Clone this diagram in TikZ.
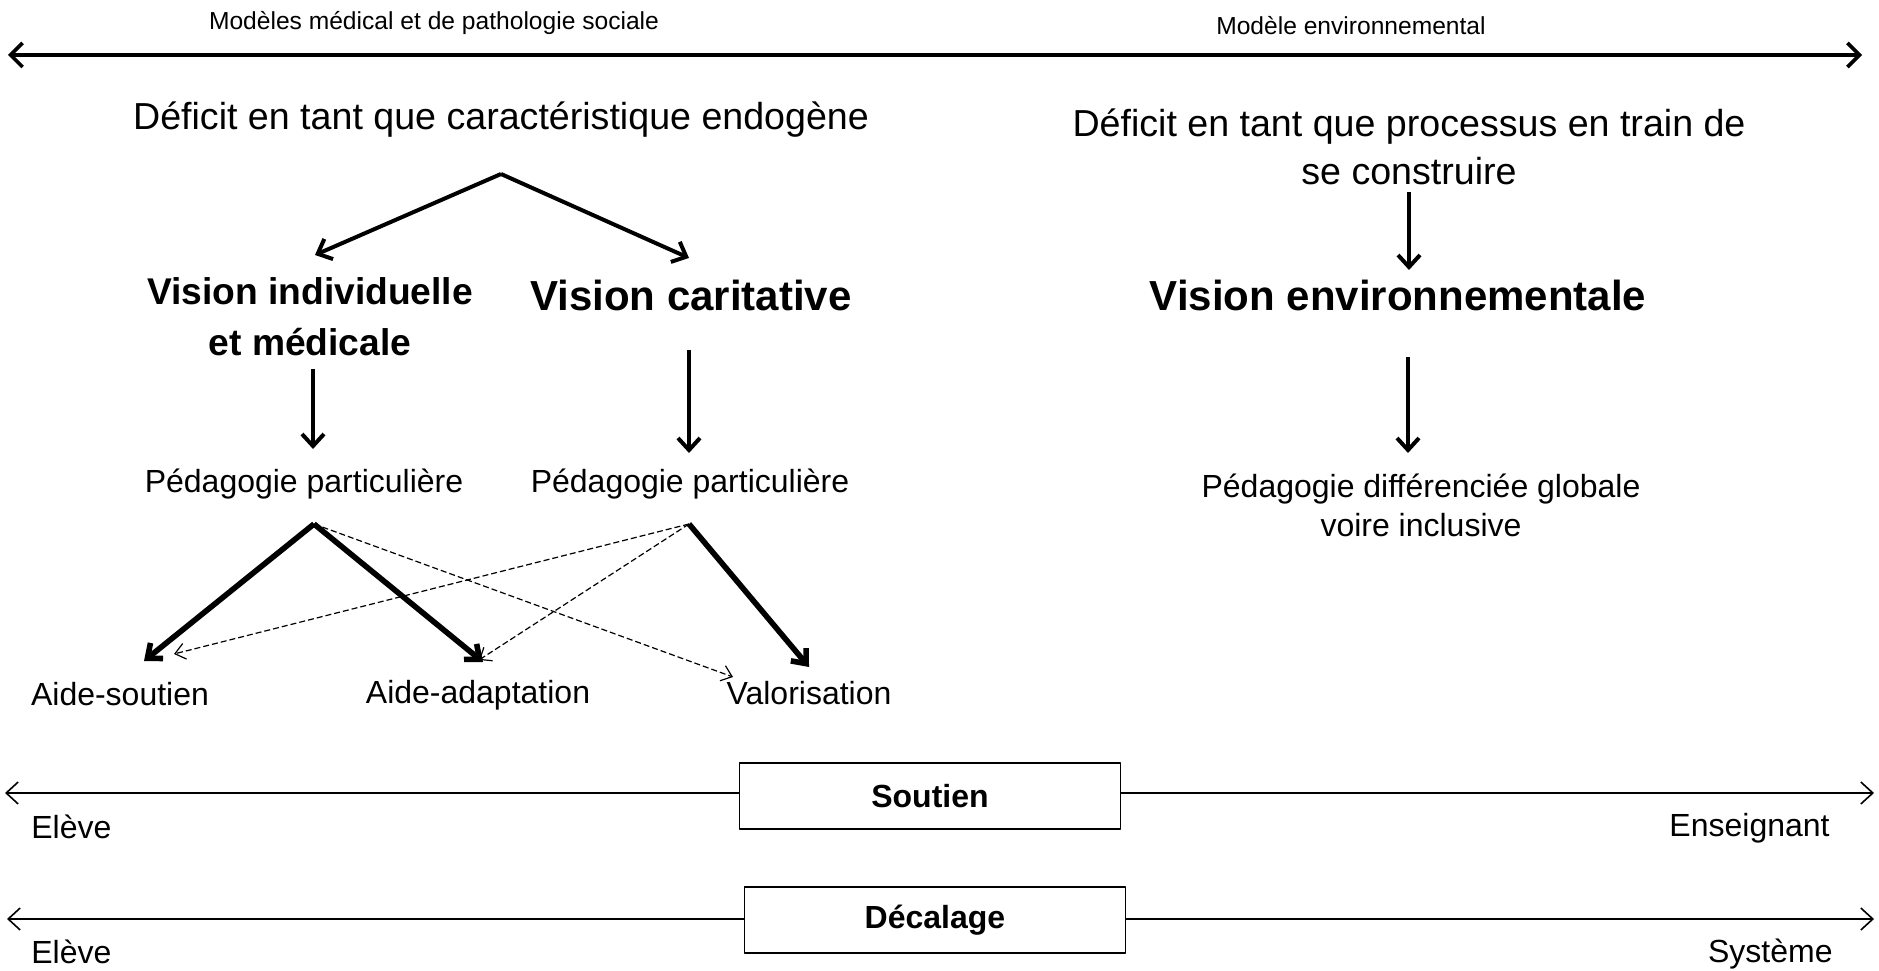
\documentclass[tikz,border=0pt]{standalone}
\usepackage{fontspec}
\setmainfont{Liberation Sans}
\usetikzlibrary{arrows.meta}
\tikzset{
  txtsmall/.style={inner sep=0pt, font=\fontsize{12.3bp}{15bp}\selectfont},
  txtbig/.style={inner sep=0pt, align=center, font=\fontsize{18.8bp}{24bp}\selectfont},
  txtvisa/.style={inner sep=0pt, align=center, font=\bfseries\fontsize{18.6bp}{25.5bp}\selectfont},
  txtvisb/.style={inner sep=0pt, font=\bfseries\fontsize{21bp}{26bp}\selectfont},
  txtbody/.style={inner sep=0pt, align=center, font=\fontsize{16bp}{19.5bp}\selectfont},
  scalebox/.style={draw, line width=0.6bp, fill=white, minimum width=190.5bp, minimum height=33bp,
    inner sep=0pt, font=\bfseries\fontsize{16bp}{19.5bp}\selectfont},
}
\begin{document}
\begin{tikzpicture}[line join=bevel,
  bigaxis/.style={line width=1.8bp, {Straight Barb[length=6bp,width=12bp]}-{Straight Barb[length=6bp,width=12bp]}},
  fatarrow/.style={line width=2bp, -{Straight Barb[length=6bp,width=11bp]}},
  heavyarrow/.style={line width=2.8bp, -{Straight Barb[length=6bp,width=10bp]}},
  dasharrow/.style={line width=0.6bp, dash pattern=on 3bp off 1.5bp, -{Straight Barb[length=5bp,width=8bp]}},
  thinaxis/.style={line width=0.8bp, -{Straight Barb[length=6bp,width=11bp]}},
]
\useasboundingbox (0bp,0bp) rectangle (939.5bp,485.5bp);
%%
  % Node: models
  \node[txtsmall] (modmed) at (217bp,474bp) {Modèles médical et de pathologie sociale};
  \node[txtsmall] (modenv) at (675.5bp,472.5bp) {Modèle environnemental};
  \coordinate (axisL) at (4bp,458bp);
  \coordinate (axisR) at (931bp,458bp);
  % Edge: axisL <-> axisR
  \draw [bigaxis] (axisL) -- (axisR);
  % Node: deficits
  \node[txtbig] (defendo) at (250.5bp,425.5bp) {Déficit en tant que caractéristique endogène};
  \node[txtbig] (defproc) at (704.5bp,412bp) {Déficit en tant que processus en train de\\se construire};
  % Node: visions
  \node[txtvisa] (visind) at (155bp,327bp) {Vision individuelle\\et médicale};
  \node[txtvisb] (viscar) at (345.5bp,338bp) {Vision caritative};
  \node[txtvisb] (visenv) at (699bp,338bp) {Vision environnementale};
  % Node: pedagogies
  \node[txtbody] (pedind) at (152bp,243.5bp) {Pédagogie particulière};
  \node[txtbody] (pedcar) at (345bp,243.5bp) {Pédagogie particulière};
  \node[txtbody] (peddiff) at (710.5bp,233bp) {Pédagogie différenciée globale\\voire inclusive};
  % Node: aides
  \node[txtbody] (aidsout) at (60bp,138.5bp) {Aide-soutien};
  \node[txtbody] (aidadapt) at (239bp,137.7bp) {Aide-adaptation};
  \node[txtbody] (valor) at (404.5bp,139bp) {Valorisation};
  % Edge: defendo -> visind, viscar
  \coordinate (split) at (250.5bp,398.5bp);
  \coordinate (tipind) at (157.5bp,358bp);
  \coordinate (tipcar) at (344.5bp,356.5bp);
  \draw [fatarrow] (split) -- (tipind);
  \draw [fatarrow] (split) -- (tipcar);
  % Edge: defproc -> visenv
  \coordinate (procout) at (704.5bp,389.5bp);
  \coordinate (envin) at (704.5bp,350.5bp);
  \draw [fatarrow] (procout) -- (envin);
  % Edge: visions -> pedagogies
  \coordinate (indout) at (156.5bp,301bp);
  \coordinate (indin) at (156.5bp,261bp);
  \draw [fatarrow] (indout) -- (indin);
  \coordinate (carout) at (344.5bp,310.5bp);
  \coordinate (carin) at (344.5bp,259bp);
  \draw [fatarrow] (carout) -- (carin);
  \coordinate (envout) at (704bp,307bp);
  \coordinate (diffin) at (704bp,259bp);
  \draw [fatarrow] (envout) -- (diffin);
  % Edge: pedagogies -> aides
  \coordinate (srcind) at (157bp,223.5bp);
  \coordinate (srccar) at (344.5bp,223.5bp);
  \coordinate (soutA) at (72bp,155bp);
  \coordinate (adaptA) at (241.5bp,154.5bp);
  \coordinate (valA) at (404.5bp,152bp);
  \coordinate (valB) at (366.5bp,147bp);
  \coordinate (soutB) at (87bp,158.5bp);
  \coordinate (adaptB) at (239.5bp,155.5bp);
  \draw [heavyarrow] (srcind) -- (soutA);
  \draw [heavyarrow] (srcind) -- (adaptA);
  \draw [heavyarrow] (srccar) -- (valA);
  \draw [dasharrow] (srcind) -- (valB);
  \draw [dasharrow] (srccar) -- (soutB);
  \draw [dasharrow] (srccar) -- (adaptB);
  % Node: Soutien
  \node[scalebox] (soutien) at (465bp,87.5bp) {Soutien};
  \coordinate (soutL) at (2.5bp,89bp);
  \coordinate (soutR) at (937bp,89bp);
  \draw [thinaxis] (soutien.west |- soutL) -- (soutL);
  \draw [thinaxis] (soutien.east |- soutR) -- (soutR);
  \node[txtbody, anchor=west] (eleveA) at (15.5bp,72bp) {Elève};
  \node[txtbody, anchor=east] (enseign) at (915bp,71.5bp) {Enseignant};
  % Node: Decalage
  \node[scalebox] (decal) at (467.5bp,25.5bp) {Décalage};
  \coordinate (decalL) at (3.5bp,26bp);
  \coordinate (decalR) at (937bp,26bp);
  \draw [thinaxis] (decal.west |- decalL) -- (decalL);
  \draw [thinaxis] (decal.east |- decalR) -- (decalR);
  \node[txtbody, anchor=west] (eleveB) at (15.5bp,9.5bp) {Elève};
  \node[txtbody, anchor=east] (systeme) at (916.5bp,8.7bp) {Système};
%
\end{tikzpicture}
\end{document}
